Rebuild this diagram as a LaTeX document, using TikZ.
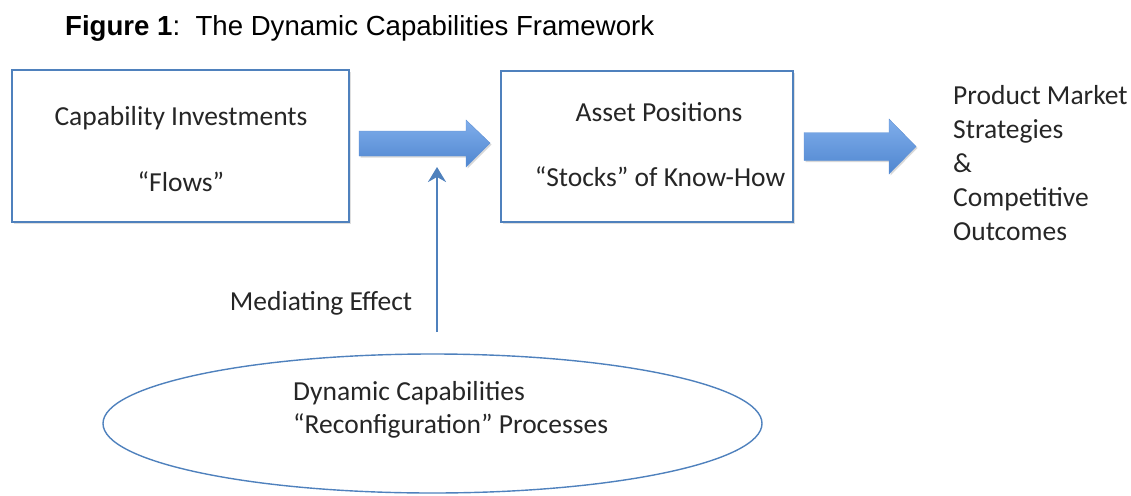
\documentclass[tikz,border=0pt]{standalone}
\usepackage{fontspec}
\setmainfont{Carlito}
\newfontfamily\arialf{Liberation Sans}
\usetikzlibrary{shapes.geometric,arrows.meta,shadows}
\definecolor{obl}{HTML}{4F81BD}
\definecolor{arrlight}{HTML}{80AEEB}
\definecolor{arrdark}{HTML}{4F86D0}
\tikzset{
  boxstyle/.style={draw=obl, line width=1.6pt, fill=white, inner sep=0pt,
    drop shadow={shadow xshift=1.5pt, shadow yshift=-1.5pt, fill=black!25, opacity=0.5}},
  txt/.style={font=\fontsize{27.5}{33}\selectfont, inner sep=0pt, text=black!85},
  blockarrow/.style={top color=arrlight, bottom color=arrdark, draw=arrdark!90, line width=0.4pt,
    drop shadow={shadow xshift=1.5pt, shadow yshift=-1.5pt, fill=black!30, opacity=0.5}},
  medarrow/.style={draw=obl, line width=2.6pt, -{Stealth[length=15pt,width=18pt,inset=5pt]}},
}
\begin{document}
\begin{tikzpicture}[x=1pt,y=-1pt]
\useasboundingbox (0,0) rectangle (1131,495);
% title
\node[anchor=base west, inner sep=0pt, font=\arialf\fontsize{27.6}{30}\selectfont] (title) at (65,36)
  {\textbf{Figure 1}:\ \ The Dynamic Capabilities Framework};
% boxes
\node[boxstyle, minimum width=337pt, minimum height=152pt] (b1) at (180.5,146) {};
\node[boxstyle, minimum width=292pt, minimum height=151pt] (b2) at (647,146.5) {};
\node[txt] (t1a) at (181,118) {Capability Investments};
\node[txt] (t1b) at (181,182) {“Flows”};
\node[txt] (t2a) at (659,112) {Asset Positions};
\node[txt] (t2b) at (660,177) {“Stocks” of Know-How};
% right text
\node[txt, anchor=north west, align=left, font=\fontsize{27.5}{34}\selectfont] (out) at (953,85)
  {Product Market\\Strategies\\\&\\Competitive\\Outcomes};
% block arrows
\coordinate (a1s) at (359,143);
\coordinate (a1e) at (490,143);
\path[blockarrow] (a1s) ++(0,-12) -- ++(107,0) -- ++(0,-11) -- (a1e) -- ++(-24,24) -- ++(0,-11) -- ++(-107,0) -- cycle;
\coordinate (a2s) at (804,146.5);
\coordinate (a2e) at (916,146.5);
\path[blockarrow] (a2s) ++(0,-14) -- ++(85,0) -- ++(0,-13.5) -- (a2e) -- ++(-27,27.5) -- ++(0,-13.5) -- ++(-85,0) -- cycle;
% ellipse
\node[ellipse, draw=obl, line width=1.4pt, minimum width=659pt, minimum height=139pt, inner sep=0pt] (ell) at (432.5,423.5) {};
\node[txt, anchor=west, align=left] (et) at (293,410)
  {Dynamic Capabilities\\“Reconfiguration” Processes};
% mediating
\node[txt] (med) at (321,303) {Mediating Effect};
\coordinate (ms) at (437,332);
\coordinate (me) at (437,167);
\draw[medarrow] (ms) -- (me);
\end{tikzpicture}
\end{document}
